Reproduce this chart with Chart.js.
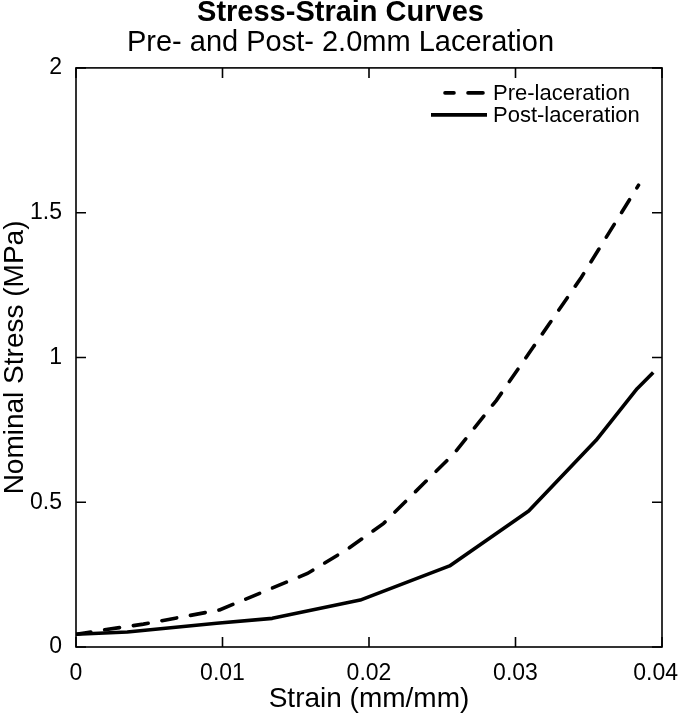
<!DOCTYPE html>
<html>
<head>
<meta charset="utf-8">
<title>Stress-Strain Curves</title>
<script src="https://cdn.jsdelivr.net/npm/chart.js@4.4.1/dist/chart.umd.min.js"></script>
<style>
  html, body { margin: 0; padding: 0; background: #fff; }
  #wrap { width: 681px; height: 717px; }
</style>
</head>
<body>
<div id="wrap"><canvas id="stressChart" width="681" height="717"></canvas></div>
<script>
// values
const strainPre = [0, 0.0019, 0.0046, 0.0098, 0.0158, 0.0185, 0.0210, 0.0228, 0.0258, 0.0287, 0.0312, 0.0345, 0.0384];
const stressPre = [0.044, 0.059, 0.079, 0.128, 0.254, 0.337, 0.427, 0.518, 0.668, 0.852, 1.035, 1.277, 1.595];

const strainPost = [0, 0.0035, 0.0096, 0.0134, 0.0194, 0.0255, 0.0309, 0.0355, 0.0383, 0.0394];
const stressPost = [0.044, 0.052, 0.082, 0.099, 0.162, 0.280, 0.470, 0.714, 0.892, 0.948];

const seriesNames = ['Pre-laceration', 'Post-laceration'];
const xTicks = [0, 0.01, 0.02, 0.03, 0.04];
const yTicks = [0, 0.5, 1, 1.5, 2];

const FONT = "'Liberation Sans', Arial, Helvetica, sans-serif";

function toPoints(xs, ys) {
  return xs.map((x, i) => ({ x: x, y: ys[i] }));
}

function fmt(v) {
  return String(Number(v.toFixed(3)));
}

// box around the plot, inward tick marks on all four sides, legend inside
const framePlugin = {
  id: 'frame',
  afterDatasetsDraw(chart) {
    const ctx = chart.ctx;
    const a = chart.chartArea;
    const xs = chart.scales.x;
    const ys = chart.scales.y;
    const tl = 10;
    ctx.save();
    ctx.strokeStyle = '#000';
    ctx.lineWidth = 1.6;
    ctx.strokeRect(a.left, a.top, a.right - a.left, a.bottom - a.top);
    ctx.beginPath();
    xTicks.forEach(v => {
      const px = xs.getPixelForValue(v);
      ctx.moveTo(px, a.bottom); ctx.lineTo(px, a.bottom - tl);
      ctx.moveTo(px, a.top); ctx.lineTo(px, a.top + tl);
    });
    yTicks.forEach(v => {
      const py = ys.getPixelForValue(v);
      ctx.moveTo(a.left, py); ctx.lineTo(a.left + tl, py);
      ctx.moveTo(a.right, py); ctx.lineTo(a.right - tl, py);
    });
    ctx.stroke();

    // legend
    const sets = chart.data.datasets;
    const rows = [a.top + 25, a.top + 47];
    const textX = a.left + 417;
    ctx.font = '22px ' + FONT;
    ctx.textAlign = 'left';
    ctx.textBaseline = 'middle';
    ctx.fillStyle = '#000';
    sets.forEach((ds, i) => {
      const y = rows[i];
      ctx.lineWidth = ds.borderWidth;
      ctx.lineCap = i === 0 ? 'round' : 'butt';
      ctx.setLineDash(ds.borderDash || []);
      ctx.beginPath();
      if (i === 0) {
        ctx.lineDashOffset = 6;
        ctx.moveTo(textX - 48, y); ctx.lineTo(textX - 10, y);
      } else {
        ctx.moveTo(textX - 62, y); ctx.lineTo(textX - 6, y);
      }
      ctx.stroke();
      ctx.setLineDash([]);
      ctx.lineDashOffset = 0;
      ctx.fillText(ds.label, textX, y + 1);
    });
    ctx.restore();
  }
};

new Chart(document.getElementById('stressChart'), {
  type: 'line',
  data: {
    datasets: [
      {
        label: seriesNames[0],
        data: toPoints(strainPre, stressPre),
        borderColor: '#000',
        borderWidth: 3.6,
        borderDash: [15, 14],
        borderCapStyle: 'round',
        pointRadius: 0,
        tension: 0,
        fill: false
      },
      {
        label: seriesNames[1],
        data: toPoints(strainPost, stressPost),
        borderColor: '#000',
        borderWidth: 3.6,
        borderJoinStyle: 'round',
        pointRadius: 0,
        tension: 0,
        fill: false
      }
    ]
  },
  options: {
    responsive: false,
    animation: false,
    layout: { padding: 0 },
    plugins: {
      legend: { display: false },
      tooltip: { enabled: false },
      title: {
        display: true,
        text: 'Stress-Strain Curves',
        color: '#000',
        font: { family: FONT, size: 29, weight: 'bold', lineHeight: 0.9 },
        padding: { top: 0, bottom: 2 }
      },
      subtitle: {
        display: true,
        text: 'Pre- and Post- 2.0mm Laceration',
        color: '#000',
        font: { family: FONT, size: 29, lineHeight: 1 },
        padding: { top: 0, bottom: 10.8 }
      }
    },
    scales: {
      x: {
        type: 'linear',
        min: 0,
        max: 0.04,
        grid: { display: false, drawTicks: false },
        border: { display: false },
        afterBuildTicks: s => { s.ticks = xTicks.map(v => ({ value: v })); },
        ticks: {
          color: '#000',
          padding: 13,
          maxRotation: 0,
          font: { family: FONT, size: 23 },
          callback: v => (v === 0.04 ? fmt(v) + '\u00a0\u00a0' : fmt(v))
        },
        title: {
          display: true,
          text: 'Strain (mm/mm)',
          color: '#000',
          font: { family: FONT, size: 28, lineHeight: 1 },
          padding: { top: 0, bottom: 4 }
        },
        afterFit: s => { s.height = 70; s.paddingRight = 19; }
      },
      y: {
        type: 'linear',
        min: 0,
        max: 2,
        grid: { display: false, drawTicks: false },
        border: { display: false },
        afterBuildTicks: s => { s.ticks = yTicks.map(v => ({ value: v })); },
        ticks: {
          color: '#000',
          padding: 14,
          font: { family: FONT, size: 23 },
          callback: v => fmt(v)
        },
        title: {
          display: true,
          text: 'Nominal Stress (MPa)',
          color: '#000',
          font: { family: FONT, size: 28, lineHeight: 1 },
          padding: { top: 1, bottom: 0 }
        },
        afterFit: s => { s.width = 76; }
      }
    }
  },
  plugins: [framePlugin]
});
</script>
</body>
</html>
